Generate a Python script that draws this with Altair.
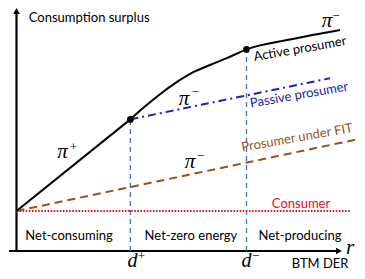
import altair as alt
import pandas as pd

# ---- data (diagram units: d+ ~ 1, d- ~ 2 on x; consumer level = 1 on y) ----
d_plus, d_minus = 0.99, 2.0
y_knee1, y_knee2 = 3.29, 5.04

active_straight_x = [0.0, d_plus]
active_straight_y = [1.0, y_knee1]
active_curve_x = [d_plus, 1.103, 1.248, 1.393, 1.537, 1.683, 1.828, d_minus, 2.40, 2.813]
active_curve_y = [y_knee1, 3.58, 3.92, 4.22, 4.47, 4.65, 4.82, y_knee2, 5.30, 5.525]
passive_x = [d_plus, 2.726]
passive_y = [y_knee1, 4.32]
fit_x = [0.0, 2.96]
fit_y = [1.0, 2.79]
consumer_x = [0.0, 2.90]
consumer_y = [1.0, 1.0]
knees_x = [d_plus, d_minus]
knees_y = [y_knee1, y_knee2]

labels = ["Consumption surplus", "Active prosumer", "Passive prosumer", "Prosumer under FIT",
          "Consumer", "Net-consuming", "Net-zero energy", "Net-producing", "BTM DER"]
labels_x = [0.632, 2.465, 2.457, 2.44, 2.474, 0.457, 1.517, 2.465, 2.64]
labels_y = [5.825, 5.05, 3.90, 2.83, 1.1875, 0.375, 0.375, 0.375, -0.32]
labels_angle = [0, 350, 350, 350, 0, 0, 0, 0, 0]
labels_color = ["#000000", "#000000", "#2020b8", "#9c4f1c", "#e01010",
                "#000000", "#000000", "#000000", "#000000"]

pi_x = [0.400, 2.700, 1.457, 1.509]
pi_y = [2.33, 5.59, 3.65, 2.08]
pi_sup = ["+", "−", "−", "−"]
pi_sup_x = [0.494, 2.777, 1.555, 1.599]
pi_sup_y = [2.60, 5.875, 3.97, 2.37]

d_x = [1.009, 2.0]
d_y = [-0.39, -0.39]
d_sup = ["+", "−"]
d_sup_x = [1.086, 2.079]
d_sup_y = [-0.13, -0.13]

r_x = [2.90]
r_y = [-0.075]

# ---- scales ----
W, H = 349, 263
UX, UY = 115.0, 40.0
x0 = -8.5 / UX
y1 = 243.0 / UY
xs = alt.Scale(domain=[x0, x0 + W / UX], range=[0, W], nice=False, zero=False)
ys = alt.Scale(domain=[y1 - H / UY, y1], range=[H, 0], nice=False, zero=False)


def base(df):
    return alt.Chart(df).encode(
        x=alt.X("x:Q", scale=xs, axis=None),
        y=alt.Y("y:Q", scale=ys, axis=None),
    )


def line(xv, yv, **kw):
    return base(pd.DataFrame({"x": xv, "y": yv, "o": range(len(xv))})).mark_line(**kw).encode(
        order="o:Q")


def math(xv, yv, txt, size):
    df = pd.DataFrame({"x": xv, "y": yv, "t": txt})
    return base(df).mark_text(font="Liberation Serif", fontStyle="italic", fontSize=size,
                              align="center", baseline="alphabetic", color="black").encode(text="t:N")


def sup(xv, yv, txt):
    df = pd.DataFrame({"x": xv, "y": yv, "t": txt})
    return base(df).mark_text(font="Liberation Serif", fontSize=13, align="center",
                              baseline="middle", color="black").encode(text="t:N")


layers = []
# axes
layers.append(line([0.0, 0.0], [0.0, 5.975], color="black", strokeWidth=2.2))
layers.append(line([-0.065, 2.796], [0.0, 0.0], color="black", strokeWidth=2.2))
layers.append(base(pd.DataFrame({"x": [0.0], "y": [6.0]})).mark_point(
    shape="triangle-up", filled=True, color="black", size=45, opacity=1))
layers.append(base(pd.DataFrame({"x": [2.804], "y": [0.0]})).mark_point(
    shape="triangle-right", filled=True, color="black", size=45, opacity=1))

# vertical guides
layers.append(line([d_plus, d_plus], [0.0, y_knee1], color="#4472c4", strokeWidth=1.3, strokeDash=[5, 4]))
layers.append(line([d_minus, d_minus], [0.0, y_knee2], color="#4472c4", strokeWidth=1.3, strokeDash=[5, 4]))

# curves
layers.append(line(consumer_x, consumer_y, color="#e01010", strokeWidth=2, strokeDash=[1.5, 1.6]))
layers.append(line(fit_x, fit_y, color="#9c4f1c", strokeWidth=2, strokeDash=[8, 5]))
layers.append(line(passive_x, passive_y, color="#2020b8", strokeWidth=2, strokeDash=[8, 4, 2, 4]))
layers.append(line(active_straight_x, active_straight_y, color="black", strokeWidth=2))
layers.append(line(active_curve_x, active_curve_y, color="black", strokeWidth=2, interpolate="monotone"))
layers.append(base(pd.DataFrame({"x": knees_x, "y": knees_y})).mark_point(
    filled=True, color="black", size=45, opacity=1))

# labels
lab = pd.DataFrame({"x": labels_x, "y": labels_y, "t": labels, "a": labels_angle, "c": labels_color})
layers.append(base(lab).mark_text(font="Lato", fontSize=13, align="center", baseline="middle").encode(
    text="t:N", angle=alt.Angle("a:Q", scale=None), color=alt.Color("c:N", scale=None)))

layers.append(math(pi_x, pi_y, ["π"] * len(pi_x), 21))
layers.append(sup(pi_sup_x, pi_sup_y, pi_sup))
layers.append(math(d_x, d_y, ["d"] * len(d_x), 20))
layers.append(sup(d_sup_x, d_sup_y, d_sup))
layers.append(math(r_x, r_y, ["r"], 21))

chart = alt.layer(*layers).properties(
    width=W, height=H, autosize=alt.AutoSizeParams(type="none"), padding=0
).configure_view(stroke=None)

chart.save("out.html", embed_options={"renderer": "svg", "actions": False})
